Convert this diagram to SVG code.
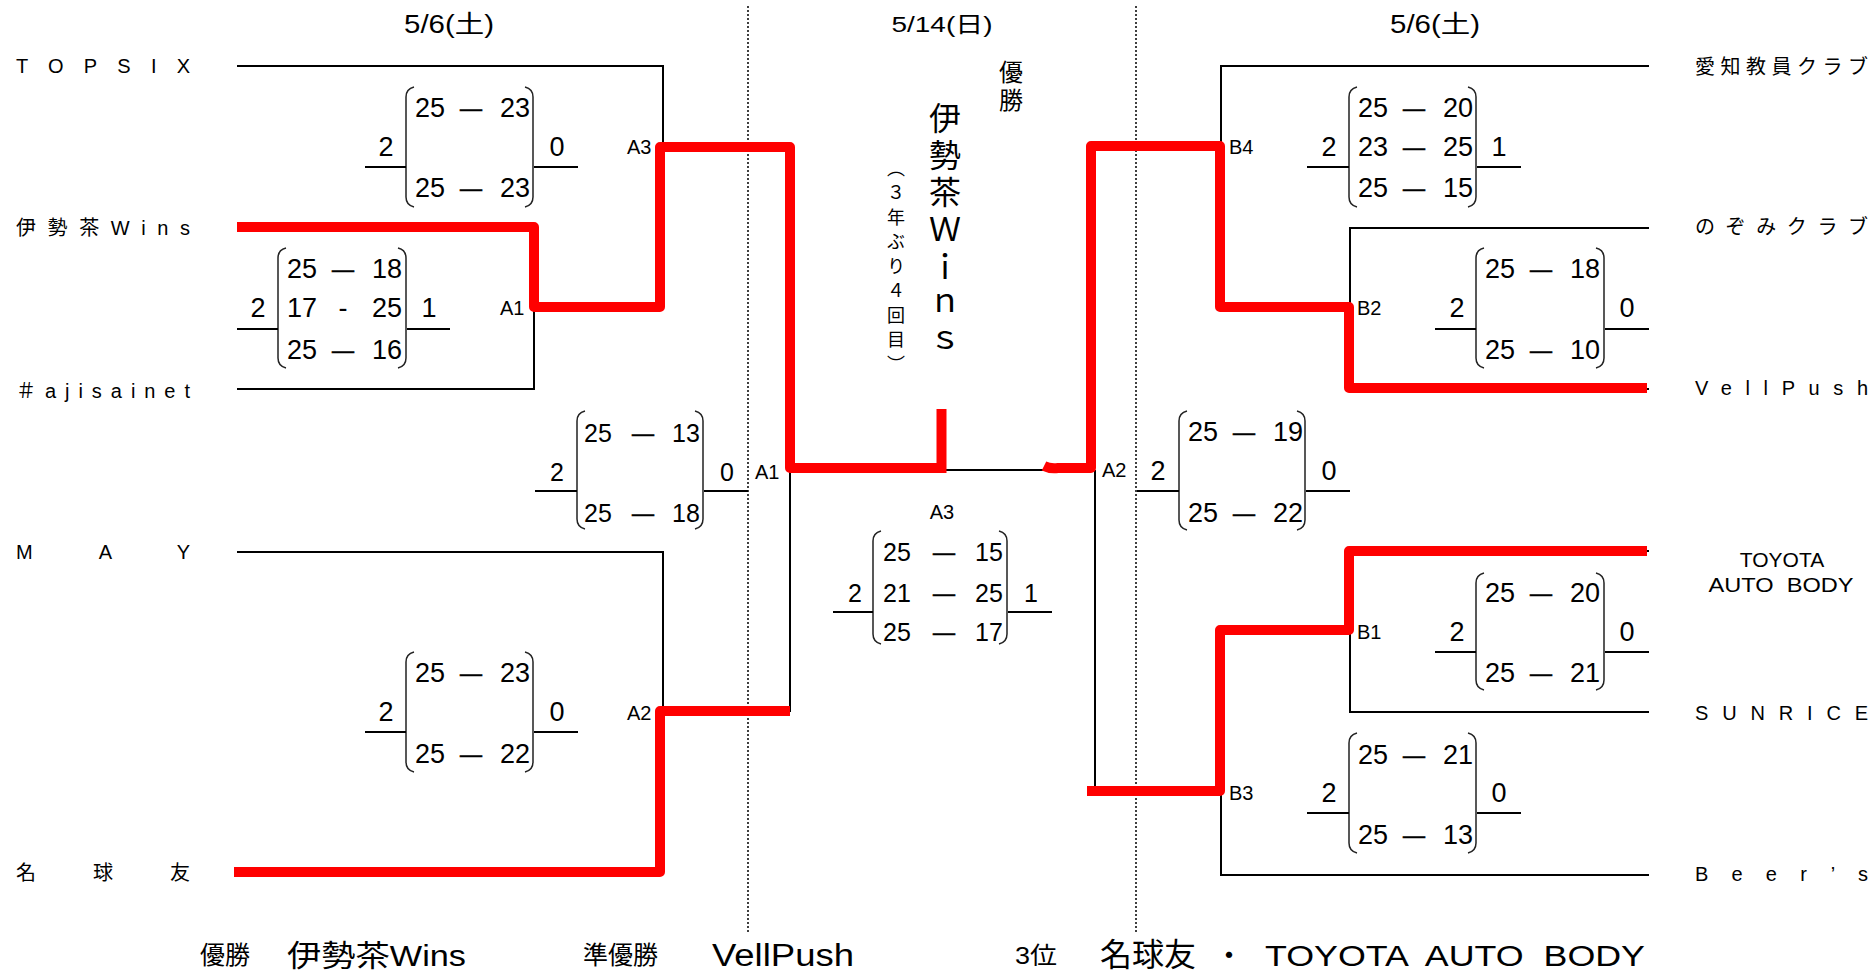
<svg xmlns="http://www.w3.org/2000/svg" width="1871" height="971" viewBox="0 0 1871 971">
<style>
text{font-family:"Liberation Sans","Noto Sans CJK JP",sans-serif;fill:#000;dominant-baseline:central;white-space:pre}
.nm{font-size:20px}
.s{font-size:27px;text-anchor:middle}
.c{font-size:25px;text-anchor:middle}
.ds{font-size:22px;text-anchor:middle;stroke:#000;stroke-width:0.7}
.lb{font-size:20px}
.k{stroke:#000;stroke-width:2;fill:none}
.r{stroke:#f00;stroke-width:10;fill:none;stroke-linejoin:round}
.p{stroke:#222;stroke-width:1.5;fill:none}
.u{stroke:#000;stroke-width:2}
.dot{stroke:#000;stroke-width:1.5;stroke-dasharray:2 2}
.v{writing-mode:vertical-rl;dominant-baseline:auto}
</style>
<rect width="1871" height="971" fill="#fff"/>

<g id="dividers">
<line class="dot" x1="748" y1="6" x2="748" y2="932"/>
<line class="dot" x1="1136" y1="6" x2="1136" y2="932"/>
</g>

<g id="dates">
<text x="449" y="24" font-size="25" text-anchor="middle" textLength="90" lengthAdjust="spacingAndGlyphs">5/6(土)</text>
<text x="942" y="24" font-size="22" text-anchor="middle" textLength="101" lengthAdjust="spacingAndGlyphs">5/14(日)</text>
<text x="1435" y="24" font-size="25" text-anchor="middle" textLength="90" lengthAdjust="spacingAndGlyphs">5/6(土)</text>
</g>

<g id="connectors">
<path class="k" d="M237 66H663V147"/>
<path class="k" d="M237 227H534"/>
<path class="k" d="M237 389H534V307"/>
<path class="k" d="M237 552H663V711"/>
<path class="k" d="M237 872H663"/>
<path class="k" d="M790 469V712"/>
<path class="k" d="M946 470H1050"/>
<path class="k" d="M1095 470V791"/>
<path class="k" d="M1649 66H1221V147"/>
<path class="k" d="M1649 228H1350V307"/>
<path class="k" d="M1350 389H1649"/>
<path class="k" d="M1350 551H1649"/>
<path class="k" d="M1649 712H1350V632"/>
<path class="k" d="M1649 875H1221V793"/>
<path class="r" d="M237 227H534V307H660V147H790V468H946"/>
<path class="r" d="M941.5 409V473"/>
<path class="r" d="M234 872H660V711H790"/>
<path class="r" d="M1044 466Q1050 469 1058 468H1091V146H1220V307H1349V388H1647"/>
<path class="r" d="M1087 791H1220V630H1349V551H1647"/>
</g>

<g id="team-topsix"><text class="nm" x="16" y="66" textLength="174" lengthAdjust="spacing">TOPSIX</text></g>
<g id="team-isecha"><text class="nm" x="16" y="228" textLength="174" lengthAdjust="spacing">伊勢茶Wins</text></g>
<g id="team-ajisainet"><text class="nm" x="16" y="391" textLength="174" lengthAdjust="spacing">＃ajisainet</text></g>
<g id="team-may"><text class="nm" x="16" y="552" textLength="174" lengthAdjust="spacing">MAY</text></g>
<g id="team-meikyuyu"><text class="nm" x="16" y="873" textLength="174" lengthAdjust="spacing">名球友</text></g>
<g id="team-aichi"><text class="nm" x="1695" y="67" textLength="173" lengthAdjust="spacing">愛知教員クラブ</text></g>
<g id="team-nozomi"><text class="nm" x="1695" y="227" textLength="173" lengthAdjust="spacing">のぞみクラブ</text></g>
<g id="team-vellpush"><text class="nm" x="1695" y="388" textLength="173" lengthAdjust="spacing">VellPush</text></g>
<g id="team-toyota"><text x="1782" y="559" font-size="21" text-anchor="middle">TOYOTA</text><text x="1781" y="584" font-size="21" text-anchor="middle" xml:space="preserve" textLength="145" lengthAdjust="spacingAndGlyphs">AUTO  BODY</text></g>
<g id="team-sunrice"><text class="nm" x="1695" y="713" textLength="173" lengthAdjust="spacing">SUNRICE</text></g>
<g id="team-beers"><text class="nm" x="1695" y="874" textLength="173" lengthAdjust="spacing">Beer’s</text></g>

<g id="labels">
<text class="lb" x="627" y="147">A3</text>
<text class="lb" x="500" y="308">A1</text>
<text class="lb" x="627" y="713">A2</text>
<text class="lb" x="755" y="472">A1</text>
<text class="lb" x="942" y="512" text-anchor="middle">A3</text>
<text class="lb" x="1102" y="470">A2</text>
<text class="lb" x="1229" y="147">B4</text>
<text class="lb" x="1357" y="308">B2</text>
<text class="lb" x="1357" y="632">B1</text>
<text class="lb" x="1229" y="793">B3</text>
</g>

<g id="score-left-a3">
<path class="p" d="M414 87Q406 89 406 97V197Q406 205 414 207M525 87Q533 89 533 97V197Q533 205 525 207"/>
<line class="u" x1="365" y1="167" x2="406" y2="167"/><line class="u" x1="534" y1="167" x2="578" y2="167"/>
<text class="s" x="386" y="147">2</text><text class="s" x="557" y="147">0</text>
<text class="s" x="430" y="108">25</text><text class="ds" x="471" y="108">—</text><text class="s" x="515" y="108">23</text>
<text class="s" x="430" y="188">25</text><text class="ds" x="471" y="188">—</text><text class="s" x="515" y="188">23</text>
</g>

<g id="score-left-a1">
<path class="p" d="M286 248Q278 250 278 258V358Q278 366 286 368M398 248Q406 250 406 258V358Q406 366 398 368"/>
<line class="u" x1="237" y1="329" x2="278" y2="329"/><line class="u" x1="407" y1="329" x2="450" y2="329"/>
<text class="s" x="258" y="308">2</text><text class="s" x="429" y="308">1</text>
<text class="s" x="302" y="269">25</text><text class="ds" x="343" y="269">—</text><text class="s" x="387" y="269">18</text>
<text class="s" x="302" y="308">17</text><text class="s" x="343" y="308">-</text><text class="s" x="387" y="308">25</text>
<text class="s" x="302" y="350">25</text><text class="ds" x="343" y="350">—</text><text class="s" x="387" y="350">16</text>
</g>

<g id="score-left-a2">
<path class="p" d="M414 652Q406 654 406 662V762Q406 770 414 772M525 652Q533 654 533 662V762Q533 770 525 772"/>
<line class="u" x1="365" y1="732" x2="406" y2="732"/><line class="u" x1="534" y1="732" x2="578" y2="732"/>
<text class="s" x="386" y="712">2</text><text class="s" x="557" y="712">0</text>
<text class="s" x="430" y="673">25</text><text class="ds" x="471" y="673">—</text><text class="s" x="515" y="673">23</text>
<text class="s" x="430" y="754">25</text><text class="ds" x="471" y="754">—</text><text class="s" x="515" y="754">22</text>
</g>

<g id="score-semi-a1">
<path class="p" d="M585 411Q577 413 577 421V519Q577 527 585 529M695 411Q703 413 703 421V519Q703 527 695 529"/>
<line class="u" x1="535" y1="491" x2="577" y2="491"/><line class="u" x1="704" y1="491" x2="748" y2="491"/>
<text class="c" x="557" y="472">2</text><text class="c" x="727" y="472">0</text>
<text class="c" x="598" y="433">25</text><text class="ds" x="643" y="433">—</text><text class="c" x="686" y="433">13</text>
<text class="c" x="598" y="513">25</text><text class="ds" x="643" y="513">—</text><text class="c" x="686" y="513">18</text>
</g>

<g id="score-final-a3">
<path class="p" d="M881 531Q873 533 873 541V634Q873 642 881 644M999 531Q1007 533 1007 541V634Q1007 642 999 644"/>
<line class="u" x1="833" y1="612" x2="873" y2="612"/><line class="u" x1="1008" y1="612" x2="1052" y2="612"/>
<text class="c" x="855" y="593">2</text><text class="c" x="1031" y="593">1</text>
<text class="c" x="897" y="552">25</text><text class="ds" x="944" y="552">—</text><text class="c" x="989" y="552">15</text>
<text class="c" x="897" y="593">21</text><text class="ds" x="944" y="593">—</text><text class="c" x="989" y="593">25</text>
<text class="c" x="897" y="632">25</text><text class="ds" x="944" y="632">—</text><text class="c" x="989" y="632">17</text>
</g>

<g id="score-semi-a2">
<path class="p" d="M1187 411Q1179 413 1179 421V520Q1179 528 1187 530M1297 411Q1305 413 1305 421V520Q1305 528 1297 530"/>
<line class="u" x1="1137" y1="491" x2="1179" y2="491"/><line class="u" x1="1306" y1="491" x2="1350" y2="491"/>
<text class="s" x="1158" y="471">2</text><text class="s" x="1329" y="471">0</text>
<text class="s" x="1203" y="432">25</text><text class="ds" x="1244" y="432">—</text><text class="s" x="1288" y="432">19</text>
<text class="s" x="1203" y="513">25</text><text class="ds" x="1244" y="513">—</text><text class="s" x="1288" y="513">22</text>
</g>

<g id="score-b4">
<path class="p" d="M1357 87Q1349 89 1349 97V197Q1349 205 1357 207M1468 87Q1476 89 1476 97V197Q1476 205 1468 207"/>
<line class="u" x1="1307" y1="167" x2="1349" y2="167"/><line class="u" x1="1477" y1="167" x2="1521" y2="167"/>
<text class="s" x="1329" y="147">2</text><text class="s" x="1499" y="147">1</text>
<text class="s" x="1373" y="108">25</text><text class="ds" x="1414" y="108">—</text><text class="s" x="1458" y="108">20</text>
<text class="s" x="1373" y="147">23</text><text class="ds" x="1414" y="147">—</text><text class="s" x="1458" y="147">25</text>
<text class="s" x="1373" y="188">25</text><text class="ds" x="1414" y="188">—</text><text class="s" x="1458" y="188">15</text>
</g>

<g id="score-b2">
<path class="p" d="M1484 248Q1476 250 1476 258V358Q1476 366 1484 368M1596 248Q1604 250 1604 258V358Q1604 366 1596 368"/>
<line class="u" x1="1435" y1="329" x2="1476" y2="329"/><line class="u" x1="1605" y1="329" x2="1649" y2="329"/>
<text class="s" x="1457" y="308">2</text><text class="s" x="1627" y="308">0</text>
<text class="s" x="1500" y="269">25</text><text class="ds" x="1541" y="269">—</text><text class="s" x="1585" y="269">18</text>
<text class="s" x="1500" y="350">25</text><text class="ds" x="1541" y="350">—</text><text class="s" x="1585" y="350">10</text>
</g>

<g id="score-b1">
<path class="p" d="M1484 573Q1476 575 1476 583V680Q1476 688 1484 690M1596 573Q1604 575 1604 583V680Q1604 688 1596 690"/>
<line class="u" x1="1435" y1="652" x2="1476" y2="652"/><line class="u" x1="1605" y1="652" x2="1649" y2="652"/>
<text class="s" x="1457" y="632">2</text><text class="s" x="1627" y="632">0</text>
<text class="s" x="1500" y="593">25</text><text class="ds" x="1541" y="593">—</text><text class="s" x="1585" y="593">20</text>
<text class="s" x="1500" y="673">25</text><text class="ds" x="1541" y="673">—</text><text class="s" x="1585" y="673">21</text>
</g>

<g id="score-b3">
<path class="p" d="M1357 733Q1349 735 1349 743V843Q1349 851 1357 853M1468 733Q1476 735 1476 743V843Q1476 851 1468 853"/>
<line class="u" x1="1307" y1="813" x2="1349" y2="813"/><line class="u" x1="1477" y1="813" x2="1521" y2="813"/>
<text class="s" x="1329" y="793">2</text><text class="s" x="1499" y="793">0</text>
<text class="s" x="1373" y="755">25</text><text class="ds" x="1414" y="755">—</text><text class="s" x="1458" y="755">21</text>
<text class="s" x="1373" y="835">25</text><text class="ds" x="1414" y="835">—</text><text class="s" x="1458" y="835">13</text>
</g>

<g id="champion">
<text class="v" x="1009" y="60" font-size="24" letter-spacing="4">優勝</text>
<text class="v" x="942" y="102" font-size="32" letter-spacing="5">伊勢茶Ｗｉｎｓ</text>
<text class="v" x="894" y="159" font-size="18" letter-spacing="6.5">（３年ぶり４回目）</text>
</g>

<g id="results">
<text x="200" y="955" font-size="25">優勝</text>
<text x="287" y="955" font-size="30" textLength="179" lengthAdjust="spacingAndGlyphs">伊勢茶Wins</text>
<text x="583" y="955" font-size="25">準優勝</text>
<text x="712" y="955" font-size="31" textLength="142" lengthAdjust="spacingAndGlyphs">VellPush</text>
<text x="1015" y="955" font-size="24" textLength="42" lengthAdjust="spacingAndGlyphs">3位</text>
<text x="1100" y="955" font-size="32">名球友</text>
<text x="1229" y="955" font-size="30" text-anchor="middle">・</text>
<text x="1265" y="955" font-size="30" xml:space="preserve" textLength="380" lengthAdjust="spacingAndGlyphs">TOYOTA  AUTO  BODY</text>
</g>
</svg>
